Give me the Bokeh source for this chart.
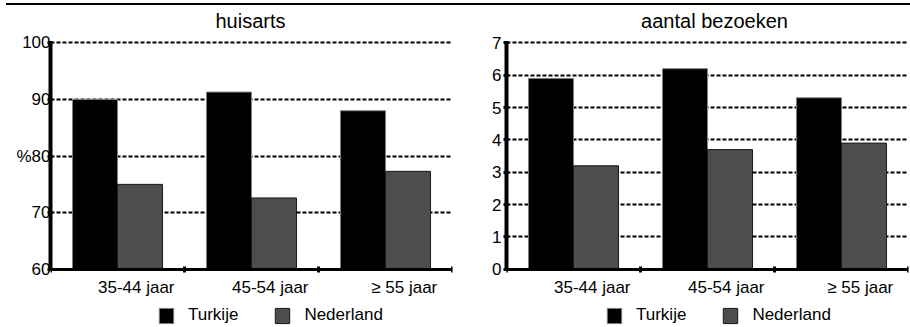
from bokeh.plotting import figure
from bokeh.layouts import column, row
from bokeh.models import (Range1d, FixedTicker, ColumnDataSource, Legend,
                          LegendItem, Label, Div)
from bokeh.transform import dodge
from bokeh.embed import file_html
from bokeh.resources import INLINE

# Age groups and values per country
categories = ["35-44 jaar", "45-54 jaar", "\u2265 55 jaar"]
huisarts_turkije = [90.0, 91.3, 88.0]
huisarts_nederland = [75.0, 72.6, 77.3]
bezoeken_turkije = [5.9, 6.2, 5.3]
bezoeken_nederland = [3.2, 3.7, 3.9]
series_names = ["Turkije", "Nederland"]

huisarts_ticks = [60, 70, 80, 90, 100]
huisarts_tick_labels = {80: "%80"}
bezoeken_ticks = [0, 1, 2, 3, 4, 5, 6, 7]

FONT = "Liberation Sans"
TURKIJE_COLOR = "black"
NEDERLAND_COLOR = "#4d4d4d"
BAR_W = 0.336
LABEL_SHIFT = 0.14

# vertical layout of each panel (pixels): a strip for the heading, the value
# area, and the strip beneath it that holds category labels and the legend
PANEL_H = 322
TOP_PX = 37.3
PLOT_PX = 226.5
BELOW_PX = PANEL_H - TOP_PX - PLOT_PX
HEADING_PX = 22     # heading position above the highest gridline


def make_panel(title, turkije, nederland, ticks, tick_labels,
               border_left, border_right, label_standoff, legend_x,
               title_shift):
    n = len(categories)
    src = ColumnDataSource(dict(
        x=[i + 0.5 for i in range(n)],
        turkije=turkije,
        nederland=nederland,
    ))
    lo, hi = ticks[0], ticks[-1]
    per_px = (hi - lo) / PLOT_PX
    p = figure(width=455, height=PANEL_H, title=None,
               x_range=Range1d(0, n),
               y_range=Range1d(lo - BELOW_PX * per_px, hi + TOP_PX * per_px),
               toolbar_location=None, output_backend="svg",
               min_border_left=border_left, min_border_right=border_right,
               min_border_top=0, min_border_bottom=0,
               outline_line_color=None, background_fill_color="white",
               border_fill_color="white")

    p.add_layout(Label(x=n / 2, y=hi + HEADING_PX * per_px, text=title,
                       x_offset=title_shift, text_align="center",
                       text_baseline="alphabetic", text_font=FONT,
                       text_font_size="20px", text_color="black"))

    r_t = p.vbar(x=dodge("x", -BAR_W / 2), top="turkije", bottom=lo,
                 width=BAR_W, source=src, fill_color=TURKIJE_COLOR,
                 line_color="#808080", line_width=1)
    r_n = p.vbar(x=dodge("x", BAR_W / 2), top="nederland", bottom=lo,
                 width=BAR_W, source=src, fill_color=NEDERLAND_COLOR,
                 line_color="#1a1a1a", line_width=1)

    # dashed horizontal gridlines
    p.xgrid.visible = False
    p.ygrid.ticker = FixedTicker(ticks=ticks)
    p.ygrid.grid_line_color = "black"
    p.ygrid.grid_line_width = 1.8
    p.ygrid.grid_line_dash = "4 2"

    # x axis sits on the lowest value; category boundaries are small square
    # marks, the labels are shifted right of each group's centre
    xa = p.xaxis[0]
    xa.fixed_location = lo
    xa.ticker = FixedTicker(ticks=[i + 0.5 + LABEL_SHIFT for i in range(n)],
                            minor_ticks=list(range(n + 1)))
    xa.major_label_overrides = {i + 0.5 + LABEL_SHIFT: c
                                for i, c in enumerate(categories)}
    xa.axis_line_width = 3
    xa.axis_line_color = "black"
    xa.major_tick_line_color = None
    xa.major_tick_in = 0
    xa.major_tick_out = 0
    xa.minor_tick_line_color = "black"
    xa.minor_tick_line_width = 3
    xa.minor_tick_in = 3
    xa.minor_tick_out = 3
    xa.major_label_text_font = FONT
    xa.major_label_text_font_size = "17px"
    xa.major_label_text_color = "black"
    xa.major_label_standoff = 6

    ya = p.yaxis[0]
    ya.bounds = (lo, hi)
    ya.ticker = FixedTicker(ticks=ticks)
    ya.major_label_overrides = tick_labels
    ya.axis_line_width = 4
    ya.axis_line_color = "black"
    ya.major_tick_line_color = "black"
    ya.major_tick_line_width = 3
    ya.major_tick_in = 2
    ya.major_tick_out = 3
    ya.minor_tick_line_color = None
    ya.major_label_text_font = FONT
    ya.major_label_text_font_size = "17px"
    ya.major_label_text_color = "black"
    ya.major_label_standoff = label_standoff

    # legend squares are drawn at 80% of the glyph box
    legend = Legend(items=[LegendItem(label=series_names[0], renderers=[r_t]),
                           LegendItem(label=series_names[1], renderers=[r_n])],
                    orientation="horizontal", location=(legend_x, 2),
                    glyph_width=18, glyph_height=19, label_height=19,
                    label_standoff=13, spacing=35, padding=0, margin=0,
                    border_line_color=None, background_fill_alpha=0,
                    label_text_font=FONT, label_text_font_size="17px",
                    label_text_color="black")
    p.add_layout(legend, "center")
    return p


left = make_panel("huisarts", huisarts_turkije, huisarts_nederland,
                  huisarts_ticks, huisarts_tick_labels, 50, 3, -3, 107, -1)
right = make_panel("aantal bezoeken", bezoeken_turkije, bezoeken_nederland,
                   bezoeken_ticks, {}, 51, 2, 2, 99, 7)

# thin rule across the top of the page
rule = Div(text="", width=904, height=2, margin=(3, 0, 0, 6),
           styles={"background-color": "black"})

layout = column(rule, row(left, right, spacing=0), spacing=0)

open("out.html", "w").write(file_html(layout, INLINE))
